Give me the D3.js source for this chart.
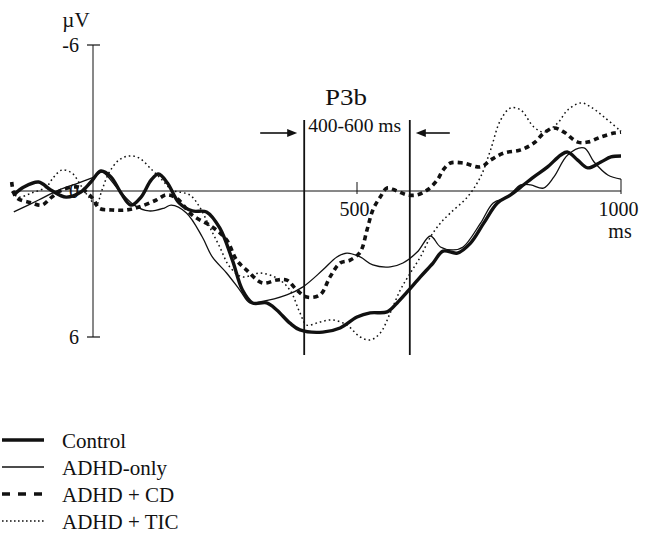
<!DOCTYPE html>
<html><head><meta charset="utf-8">
<script src="https://cdn.jsdelivr.net/npm/d3@7"></script>
<style>
body{margin:0;background:#fff}
svg{display:block}
text{font-family:"Liberation Serif","Times New Roman",serif;fill:#111}
</style>
</head><body>
<svg id="c" width="656" height="538"></svg>
<script>
// ---- data (time in ms, amplitude in µV; negative plotted up) ----
const seriesNames = ["Control", "ADHD-only", "ADHD + CD", "ADHD + TIC"];
const control = [[-150,0.16],[-131,-0.16],[-103,-0.37],[-80,-0.04],[-51,0.25],[-23,0.04],[-4,-0.37],[15,-0.82],[34,-0.58],[53,0.08],[72,0.58],[91,0.25],[110,-0.45],[124,-0.7],[141,-0.33],[163,0.49],[188,0.82],[215,0.86],[240,1.52],[264,2.84],[283,4.07],[302,4.6],[329,4.6],[348,4.89],[373,5.43],[392,5.71],[435,5.8],[468,5.63],[500,5.18],[525,5.01],[557,4.97],[576,4.6],[595,4.15],[620,3.53],[644,2.96],[663,2.47],[690,2.55],[715,2.14],[740,1.32],[766,0.49],[791,0.16],[810,-0.16],[835,-0.58],[861,-0.99],[886,-1.48],[899,-1.6],[918,-1.27],[937,-0.95],[962,-1.19],[981,-1.4],[1000,-1.44]];
const adhdOnly = [[-150,0.86],[-103,0.37],[-65,-0.04],[-27,-0.33],[2,-0.58],[17,-0.78],[49,-0.04],[78,0.58],[106,0.82],[135,0.7],[148,0.58],[177,0.9],[207,1.89],[226,2.71],[253,3.37],[278,4.07],[297,4.6],[316,4.56],[367,4.27],[397,3.95],[435,3.25],[462,2.71],[481,2.55],[506,2.71],[530,3.04],[563,3.12],[587,2.96],[614,2.51],[639,1.85],[658,2.3],[682,2.42],[701,2.3],[734,1.32],[758,0.49],[785,0.25],[810,-0.25],[829,-0.25],[853,-0.12],[873,-0.58],[899,-1.48],[930,-1.77],[949,-1.19],[975,-0.66],[1000,-0.49]];
const adhdCD = [[-154,-0.37],[-146,0.25],[-116,0.49],[-97,0.58],[-78,0.25],[-59,-0.04],[-27,-0.16],[-11,0.08],[2,0.37],[11,0.7],[36,0.78],[63,0.78],[87,0.66],[120,0.37],[139,0.16],[158,0.29],[188,0.99],[226,1.48],[253,2.01],[272,2.84],[291,3.25],[321,3.78],[348,3.66],[367,3.66],[386,4.07],[405,4.36],[430,4.27],[449,3.53],[468,2.96],[487,2.84],[506,2.51],[519,1.6],[530,0.78],[544,0.25],[557,-0.12],[576,0],[595,0.16],[614,0.16],[633,-0.04],[652,-0.45],[663,-0.86],[677,-1.15],[701,-1.15],[734,-0.99],[753,-1.27],[778,-1.56],[810,-1.69],[835,-1.97],[854,-2.38],[873,-2.59],[892,-2.42],[918,-2.01],[937,-2.01],[962,-2.22],[987,-2.38],[1000,-2.42]];
const adhdTIC = [[-154,0.04],[-141,0.25],[-116,0.08],[-89,-0.16],[-74,-0.58],[-59,-0.86],[-40,-0.74],[-21,-0.16],[-8,0.25],[6,0.58],[17,-0.04],[30,-0.74],[49,-1.27],[68,-1.44],[87,-1.36],[112,-0.86],[131,-0.45],[150,-0.04],[183,0.16],[202,0.66],[221,1.48],[240,2.3],[259,3.12],[283,3.53],[316,3.37],[348,3.58],[373,4.07],[392,5.01],[405,5.51],[430,5.38],[454,5.3],[481,5.51],[506,6.0],[525,6.12],[544,5.84],[563,5.01],[582,4.07],[601,3.37],[620,2.71],[639,1.89],[658,1.32],[677,0.9],[709,0.25],[734,-0.58],[753,-1.69],[772,-2.92],[791,-3.41],[810,-3.33],[835,-2.63],[854,-2.42],[880,-2.79],[899,-3.33],[924,-3.62],[943,-3.45],[968,-3.04],[1000,-2.45]];
const xTickValues = [500, 1000];
const yTickValues = [-6, 0, 6];
const windowMs = [400, 600];
const windowLabel = "400-600 ms";
const componentLabel = "P3b";

// ---- styles ----
const styles = [
  {w: 3.4, dash: null},
  {w: 1.3, dash: null},
  {w: 3.6, dash: "5,4"},
  {w: 1.5, dash: "1.6,3"}
];
const legendDash = [null, null, "8,8", "1.6,2.4"];

const svg = d3.select("#c");
const x = d3.scaleLinear().domain([0, 1000]).range([93, 621]);
const y = d3.scaleLinear().domain([-6, 6]).range([45, 337]);
const ink = "#111";

// x axis line
svg.append("line").attr("x1", x(-152)).attr("x2", x(1000)).attr("y1", y(0)).attr("y2", y(0))
  .attr("stroke", ink).attr("stroke-width", 1);
// y axis line
svg.append("line").attr("x1", x(0)).attr("x2", x(0)).attr("y1", y(-6)).attr("y2", y(6))
  .attr("stroke", ink).attr("stroke-width", 1);

// y ticks / labels via axis
const yAxis = d3.axisLeft(y).tickValues(yTickValues).tickSize(0).tickPadding(14)
  .tickFormat(d => String(d));
const gy = svg.append("g").attr("transform", `translate(${x(0)},0)`).call(yAxis);
gy.select(".domain").remove();
gy.selectAll("text").style("font-size", "20px").attr("font-family", null);
svg.selectAll(".ytick").data([-6, 6]).enter().append("line")
  .attr("x1", x(0) - 6).attr("x2", x(0) + 7).attr("y1", d => y(d)).attr("y2", d => y(d))
  .attr("stroke", ink).attr("stroke-width", 1.2);
svg.append("text").attr("x", x(0) - 17).attr("y", y(-6) - 18).attr("text-anchor", "middle")
  .style("font-size", "21px").text("µV");

// x ticks / labels via axis
const xAxis = d3.axisBottom(x).tickValues(xTickValues).tickSize(0).tickPadding(11)
  .tickFormat(d => String(d));
const gx = svg.append("g").attr("transform", `translate(0,${y(0)})`).call(xAxis);
gx.select(".domain").remove();
gx.selectAll("text").style("font-size", "20px").attr("font-family", null).attr("dx", -3);
svg.selectAll(".xtick").data(xTickValues).enter().append("line")
  .attr("x1", d => x(d)).attr("x2", d => x(d))
  .attr("y1", d => y(0) - (d === 1000 ? 12 : 9)).attr("y2", y(0) + 3)
  .attr("stroke", ink).attr("stroke-width", 1);
svg.append("text").attr("x", x(1000) - 1).attr("y", y(0) + 47).attr("text-anchor", "middle")
  .style("font-size", "20px").text("ms");

// P3b window
windowMs.forEach(t => {
  svg.append("line").attr("x1", x(t)).attr("x2", x(t)).attr("y1", 120).attr("y2", 355)
    .attr("stroke", ink).attr("stroke-width", 1.8);
});
svg.append("text").attr("x", (x(windowMs[0]) + x(windowMs[1])) / 2 - 11).attr("y", 105)
  .attr("text-anchor", "middle").style("font-size", "23px")
  .attr("textLength", 42).attr("lengthAdjust", "spacingAndGlyphs").text(componentLabel);
svg.append("text").attr("x", x(windowMs[0]) + 4).attr("y", 132)
  .style("font-size", "19px").attr("textLength", 93).attr("lengthAdjust", "spacingAndGlyphs")
  .text(windowLabel);

// arrows
function arrow(x1, x2, yy) {
  const dir = Math.sign(x2 - x1);
  svg.append("line").attr("x1", x1).attr("x2", x2 - dir * 8).attr("y1", yy).attr("y2", yy)
    .attr("stroke", ink).attr("stroke-width", 1.6);
  svg.append("path").attr("d", `M${x2},${yy} L${x2 - dir * 10},${yy - 4} L${x2 - dir * 10},${yy + 4} Z`)
    .attr("fill", ink);
}
arrow(x(windowMs[0]) - 44, x(windowMs[0]) - 7, 133);
arrow(x(windowMs[1]) + 40, x(windowMs[1]) + 6, 133);

// curves
const line = d3.line().x(d => x(d[0])).y(d => y(d[1])).curve(d3.curveCatmullRom.alpha(0.5));
const allSeries = [control, adhdOnly, adhdCD, adhdTIC];
const drawOrder = [3, 1, 2, 0];
drawOrder.forEach(i => {
  svg.append("path").datum(allSeries[i]).attr("d", line)
    .attr("fill", "none").attr("stroke", ink)
    .attr("stroke-width", styles[i].w)
    .attr("stroke-dasharray", styles[i].dash)
    .attr("stroke-linejoin", "round");
});

// legend
const lg = svg.append("g");
seriesNames.forEach((name, i) => {
  const yy = 440 + i * 27;
  lg.append("line").attr("x1", 2).attr("x2", 44).attr("y1", yy).attr("y2", yy)
    .attr("stroke", ink).attr("stroke-width", styles[i].w)
    .attr("stroke-dasharray", legendDash[i]);
  lg.append("text").attr("x", 62).attr("y", yy + 8).style("font-size", "21px").text(name);
});
</script>
</body></html>
